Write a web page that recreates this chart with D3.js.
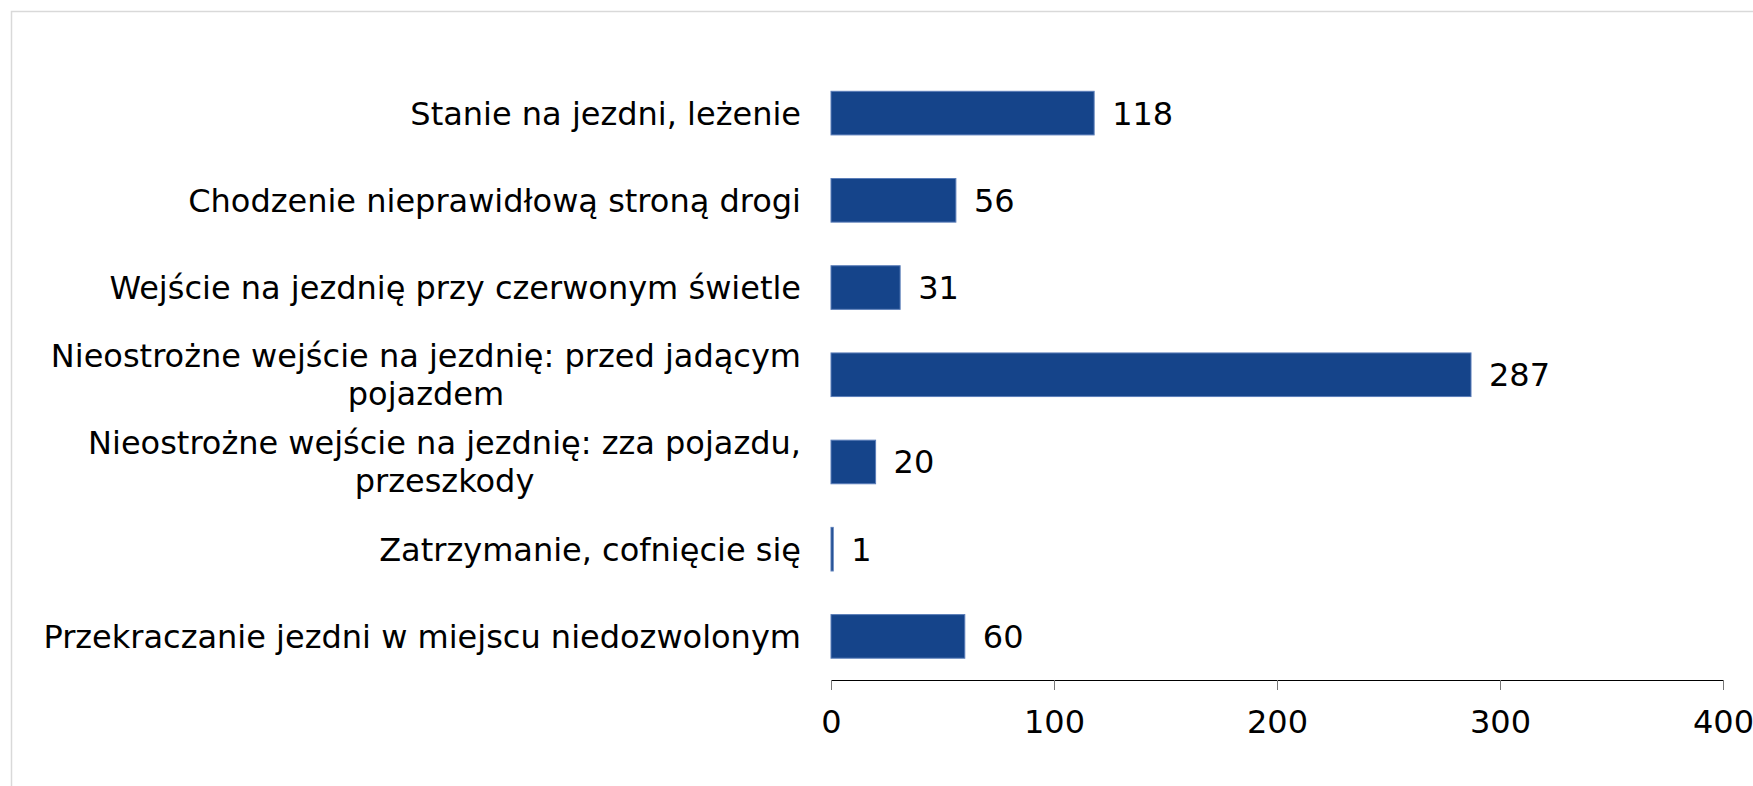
<!DOCTYPE html>
<html>
<head>
<meta charset="utf-8">
<script src="https://cdn.jsdelivr.net/npm/d3@7"></script>
<style>
  body { margin: 0; background: #fff; }
  text { font-family: "DejaVu Sans", Verdana, sans-serif; fill: #000; }
</style>
</head>
<body>
<div id="chart"></div>
<script>
// category labels, "\n" marks a line break as in the original
var categories = [
  "Stanie na jezdni, leżenie",
  "Chodzenie nieprawidłową stroną drogi",
  "Wejście na jezdnię przy czerwonym świetle",
  "Nieostrożne wejście na jezdnię: przed jadącym\npojazdem",
  "Nieostrożne wejście na jezdnię: zza pojazdu,\nprzeszkody",
  "Zatrzymanie, cofnięcie się",
  "Przekraczanie jezdni w miejscu niedozwolonym"
];
var values = [118, 56, 31, 287, 20, 1, 60];
var tickValues = [0, 100, 200, 300, 400];

var width = 1753,
    height = 786,
    fontSize = 32;

var svg = d3.select("#chart").append("svg")
    .attr("width", width)
    .attr("height", height);

// light frame around the chart area
svg.append("rect")
    .attr("x", 11.5)
    .attr("y", 11.5)
    .attr("width", 1800)
    .attr("height", 900)
    .attr("fill", "none")
    .attr("stroke", "#d9d9d9")
    .attr("stroke-width", 1.5);

var x = d3.scaleLinear()
    .domain([0, 400])
    .range([831, 1723]);

var y = d3.scaleBand()
    .domain(categories)
    .range([69.5, 680])
    .paddingInner(0.5)
    .paddingOuter(0.25);

svg.selectAll("rect.bar")
    .data(values)
  .enter().append("rect")
    .attr("class", "bar")
    .attr("x", x(0))
    .attr("y", function(d, i) { return y(categories[i]); })
    .attr("width", function(d) { return x(d) - x(0); })
    .attr("height", y.bandwidth())
    .attr("fill", "#15448a")
    .attr("stroke", "#5a7db8")
    .attr("stroke-width", 1);

// value labels
svg.selectAll("text.value")
    .data(values)
  .enter().append("text")
    .attr("class", "value")
    .attr("x", function(d) { return x(d) + 18; })
    .attr("y", function(d, i) { return y(categories[i]) + y.bandwidth() / 2; })
    .attr("dy", "0.36em")
    .attr("font-size", fontSize)
    .text(function(d) { return d; });

// category labels: block right aligned, lines centred inside it
var lineH = 38;
var labels = svg.selectAll("g.cat")
    .data(categories)
  .enter().append("g")
    .attr("class", "cat");

labels.each(function(c) {
  var g = d3.select(this);
  var lines = c.split("\n");
  var cy = y(c) + y.bandwidth() / 2;
  var t = g.append("text")
      .attr("font-size", fontSize)
      .attr("text-anchor", "middle");
  lines.forEach(function(l, j) {
    t.append("tspan")
        .attr("x", 0)
        .attr("y", cy + (j - (lines.length - 1) / 2) * lineH)
        .attr("dy", "0.36em")
        .text(l);
  });
  var w = d3.max(t.selectAll("tspan").nodes(), function(n) { return n.getComputedTextLength(); });
  g.attr("transform", "translate(" + (801 - w / 2) + ",0)");
});

// x axis
var axis = svg.append("g")
    .attr("transform", "translate(0," + 680 + ")")
    .call(d3.axisBottom(x)
        .tickValues(tickValues)
        .tickSize(10)
        .tickSizeOuter(0)
        .tickPadding(20));

axis.select(".domain").attr("stroke", "#000").attr("stroke-width", 1.2);
axis.selectAll(".tick line").attr("stroke", "#777");
axis.selectAll(".tick text")
    .attr("font-size", fontSize)
    .attr("font-family", "DejaVu Sans, sans-serif")
    .attr("fill", "#000");
</script>
</body>
</html>
